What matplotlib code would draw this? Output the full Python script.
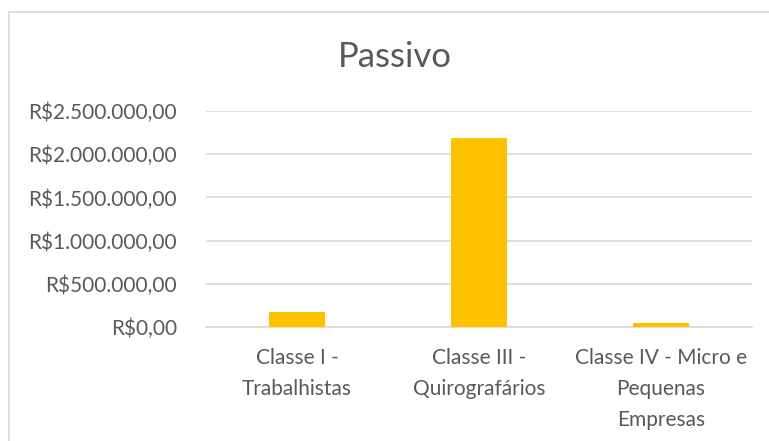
import matplotlib
matplotlib.use("Agg")
import matplotlib.pyplot as plt
from matplotlib.patches import Rectangle
from matplotlib.ticker import FuncFormatter

categories = ["Classe I -\nTrabalhistas", "Classe III -\nQuirografários", "Classe IV - Micro e\nPequenas\nEmpresas"]
values = [178000, 2185000, 42000]
yticks = [0, 500000, 1000000, 1500000, 2000000, 2500000]
title = "Passivo"

plt.rcParams['font.family'] = ['Lato', 'DejaVu Sans']
TXT = '#595959'

fig = plt.figure(figsize=(7.69, 4.41), dpi=100)
fig.patches.append(Rectangle((9/769, -0.1), 1.2, 1 - 12/441 + 0.1, transform=fig.transFigure,
                             fill=False, edgecolor='#D9D9D9', linewidth=1.2))
ax = fig.add_axes([206/769, 1 - 327/441, (752 - 206)/769, (327 - 111)/441])

x = range(len(categories))
ax.bar(x, values, width=0.31, color='#FFC000', zorder=3)
ax.set_xlim(-0.5, len(categories) - 0.5)
ax.set_ylim(0, 2500000)
ax.set_yticks(yticks)

def fmt(v, pos):
    s = f"{v:,.2f}"
    s = s.replace(',', 'X').replace('.', ',').replace('X', '.')
    return "R$" + s

ax.yaxis.set_major_formatter(FuncFormatter(fmt))
ax.set_xticks(list(x))
ax.set_xticklabels(categories, linespacing=1.7)
ax.grid(axis='y', color='#D9D9D9', linewidth=1.2, zorder=0)
for s in ['top', 'right', 'left']:
    ax.spines[s].set_visible(False)
ax.spines['bottom'].set_color('#D9D9D9')
ax.spines['bottom'].set_linewidth(1.2)
ax.tick_params(axis='both', length=0, labelsize=15, labelcolor=TXT)
ax.tick_params(axis='x', pad=15)
ax.tick_params(axis='y', pad=21)

fig.text(395/769, 1 - 57/441, title, ha='center', va='center', fontsize=25, color=TXT)

fig.savefig("out.png", dpi=100)
